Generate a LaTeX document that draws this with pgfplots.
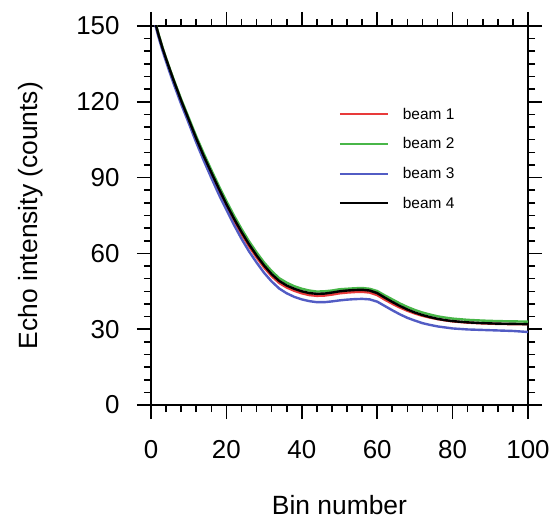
\documentclass[border=0pt]{standalone}
\usepackage{fontspec}
\setmainfont{Liberation Sans}
\usepackage{pgfplots}
\pgfplotsset{compat=1.18}
\usepackage{pgfplotstable}
\definecolor{cred}{RGB}{232,58,58}
\definecolor{cgreen}{RGB}{72,182,72}
\definecolor{cblue}{RGB}{82,92,196}
\pgfplotstableread{
x b1 b2 b3 b4
1 152 152.3 151.2 152
2 146.5 146.8 145.6 146.5
3 141.5 141.8 140.5 141.5
4 137 137.3 135.9 137
5 132.7 133 131.5 132.7
6 128.5 128.9 127.2 128.5
8 120.5 121 119.1 120.5
10 113 113.7 111.6 113
12 105.4 106.3 103.9 105.5
14 98.3 99.5 96.7 98.5
16 91.6 93 89.9 92
18 84.9 86.7 83.3 85.6
20 78.8 80.7 77.3 79.5
22 73 75 71.3 73.8
24 67.7 69.7 65.8 68.5
26 62.8 64.8 60.8 63.6
28 58.4 60.4 56.4 59.2
30 54.4 56.4 52.3 55.2
32 51 53 48.9 51.8
34 48.3 50.2 46.1 49.1
36 46.5 48.4 44.2 47.3
38 45.2 47 42.8 46
40 44.2 46 41.8 45
42 43.5 45.3 41.1 44.3
44 43.2 44.9 40.7 44
46 43.3 45 40.7 44.1
48 43.7 45.3 41 44.5
50 44.2 45.8 41.4 45
52 44.5 46 41.7 45.3
54 44.7 46.2 41.9 45.5
56 44.8 46.3 42 45.6
58 44.5 46 41.8 45.3
60 43.5 45.1 40.9 44.3
62 41.7 43.4 39.2 42.5
64 40.1 41.8 37.5 40.8
66 38.6 40.2 35.9 39.2
68 37.3 38.8 34.5 37.8
70 36.2 37.6 33.4 36.6
72 35.3 36.6 32.4 35.6
74 34.6 35.8 31.7 34.8
76 34 35.1 31.1 34.1
78 33.5 34.6 30.7 33.6
80 33.1 34.2 30.3 33.2
84 32.6 33.7 29.9 32.7
88 32.3 33.4 29.7 32.4
92 32.1 33.2 29.5 32.2
96 32 33.1 29.3 32.1
100 32 33 28.9 32
}\beams
\begin{document}
\begin{tikzpicture}
\path[use as bounding box] (-151bp,-117bp) rectangle (407bp,405bp);
\begin{axis}[
  at={(0,0)}, anchor=south west,
  scale only axis, width=377bp, height=379bp,
  xmin=0, xmax=100, ymin=0, ymax=150,
  xtick={0,20,...,100}, ytick={0,30,...,150},
  minor x tick num=4, minor y tick num=5,
  tick align=outside, tick pos=both,
  major tick length=14bp, minor tick length=7bp,
  every tick/.style={black, line width=1.6bp},
  axis line style={line width=2.6bp},
  /pgf/number format/assume math mode=true,
  ticklabel style={font=\fontsize{26}{31}\selectfont},
  xticklabel style={yshift=-18bp},
  yticklabel style={xshift=-14bp},
  label style={font=\fontsize{26.5}{31}\selectfont},
  xlabel={Bin number},
  ylabel={Echo intensity (counts)},
  xlabel style={yshift=-30bp},
  ylabel style={yshift=26bp},
  clip=true,
  legend style={at={(rel axis cs:0.49,0.795)}, anchor=north west, draw=none, fill=none,
    font=\fontsize{15.5}{18}\selectfont, row sep=13bp,
    /tikz/every odd column/.append style={column sep=12bp}},
  legend cell align=left,
  legend image code/.code={\draw[#1, line width=2bp] (0bp,0bp) -- (48bp,0bp);},
]
\addplot[cred, line width=2.4bp] table[x=x,y=b1] {\beams};
\addlegendentry{beam 1}
\addplot[cgreen, line width=2.4bp] table[x=x,y=b2] {\beams};
\addlegendentry{beam 2}
\addplot[cblue, line width=2.4bp] table[x=x,y=b3] {\beams};
\addlegendentry{beam 3}
\addplot[black, line width=2.4bp] table[x=x,y=b4] {\beams};
\addlegendentry{beam 4}
\end{axis}
\end{tikzpicture}
\end{document}
